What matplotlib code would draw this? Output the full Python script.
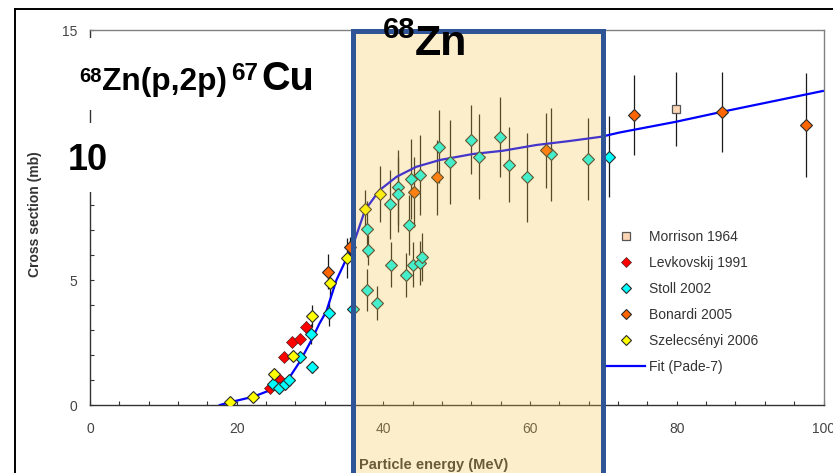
import matplotlib
matplotlib.use("Agg")
import matplotlib.pyplot as plt
from matplotlib.lines import Line2D
from matplotlib.patches import Rectangle
from matplotlib.ticker import MultipleLocator

plt.rcParams["font.family"] = ["Liberation Sans", "DejaVu Sans"]

# --- data (energy MeV, cross section mb, error mb) ---
morrison_x = [79.9]
morrison_y = [11.84]
morrison_err = [1.48]

levkovskij_x = [24.6, 25.8, 26.5, 27.6, 28.6, 29.5]
levkovskij_y = [0.69, 1.03, 1.91, 2.53, 2.63, 3.12]
levkovskij_err = [0.1, 0.1, 0.15, 0.2, 0.2, 0.25]

stoll_x = [24.9, 25.7, 26.6, 27.15, 28.6, 30.07, 30.25, 32.6, 35.8, 37.8,
           37.9, 37.8, 39.15, 40.9, 42.05, 42.05, 41.05, 43.1, 43.55, 43.8,
           44.95, 44.0, 44.96, 45.3, 47.6, 49.05, 51.9, 53.1, 55.95, 57.1,
           59.6, 62.9, 67.9, 70.75]
stoll_y = [0.83, 0.69, 0.83, 1.0, 1.93, 2.83, 1.52, 3.69, 3.85, 7.04,
           6.2, 4.6, 4.09, 8.03, 8.71, 8.43, 5.61, 5.2, 7.2, 9.03,
           9.21, 5.61, 5.69, 5.93, 10.33, 9.71, 10.61, 9.93, 10.71, 9.61,
           9.11, 10.03, 9.84, 9.93]
stoll_err = [0.1, 0.1, 0.1, 0.1, 0.15, 0.4, 0.25, 0.53, 0.2, 1.1,
             0.6, 0.85, 0.67, 1.38, 1.5, 1.5, 0.9, 0.88, 1.2, 1.6,
             1.6, 0.9, 0.88, 0.97, 1.47, 1.67, 1.38, 1.7, 1.6, 1.5,
             1.78, 1.87, 1.63, 1.63]

bonardi_x = [32.4, 35.4, 44.2, 47.3, 62.2, 74.2, 86.2, 97.6]
bonardi_y = [5.33, 6.33, 8.52, 9.11, 10.2, 11.61, 11.71, 11.2]
bonardi_err = [0.7, 0.4, 1.4, 1.5, 1.5, 1.6, 1.6, 2.08]

szelecsenyi_x = [19.07, 22.25, 25.07, 27.7, 30.3, 32.75, 35.05, 37.47, 39.6]
szelecsenyi_y = [0.11, 0.32, 1.24, 1.97, 3.56, 4.88, 5.88, 7.84, 8.43]
szelecsenyi_err = [0.0, 0.0, 0.15, 0.2, 0.45, 0.6, 0.8, 0.75, 1.13]

fit_x = [17.7, 19.07, 22.25, 24.9, 26.3, 27.25, 28.6, 30.2, 31.3, 32.2, 33.6,
         34.4, 35.2, 36.1, 37.5, 39.5, 41.8, 44.5, 47.7, 52.2, 56.3, 60.85,
         65.4, 69.7, 72.2, 79.9, 86.2, 99.9]
fit_y = [0.0, 0.11, 0.33, 0.63, 0.93, 1.13, 1.73, 2.6, 3.27, 3.73, 5.0,
         5.5, 6.0, 6.6, 7.8, 8.6, 9.13, 9.53, 9.8, 10.04, 10.17, 10.4,
         10.56, 10.73, 10.9, 11.33, 11.73, 12.56]

W, H = 833, 473


def fx(px):
    return px / W


def fy(py):
    return 1 - py / H


fig = plt.figure(figsize=(W / 100, H / 100), dpi=100)
ax = fig.add_axes([fx(90), fy(405), (823.5 - 90) / W, (405 - 30) / H])
ax.set_xlim(0, 100)
ax.set_ylim(0, 15)

# error bars, fit, markers
series = [
    (levkovskij_x, levkovskij_y, levkovskij_err),
    (stoll_x, stoll_y, stoll_err),
    (bonardi_x, bonardi_y, bonardi_err),
    (szelecsenyi_x, szelecsenyi_y, szelecsenyi_err),
    (morrison_x, morrison_y, morrison_err),
]
for xs, ys, es in series:
    ax.errorbar(xs, ys, yerr=es, fmt="none", ecolor="#1a1a1a",
                elinewidth=0.9, capsize=0, zorder=3)

ax.plot(fit_x, fit_y, color="#0000ff", lw=1.6, zorder=4)

ax.plot(levkovskij_x, levkovskij_y, ls="none", marker="D", ms=6.2,
        mfc="#ff0000", mec="#552222", mew=0.5, zorder=5)
ax.plot(stoll_x, stoll_y, ls="none", marker="D", ms=5.8,
        mfc="#00ffff", mec="#2a2a2a", mew=0.8, zorder=5)
ax.plot(bonardi_x, bonardi_y, ls="none", marker="D", ms=5.8,
        mfc="#ff6600", mec="#2a2a2a", mew=0.8, zorder=5)
ax.plot(szelecsenyi_x, szelecsenyi_y, ls="none", marker="D", ms=5.8,
        mfc="#ffff00", mec="#2a2a2a", mew=0.8, zorder=5)
ax.plot(morrison_x, morrison_y, ls="none", marker="s", ms=6,
        mfc="#fcd5b5", mec="#555555", mew=0.9, zorder=5)

# axes styling
for side in ["top", "right"]:
    ax.spines[side].set_color("#808080")
    ax.spines[side].set_linewidth(1.0)
for side in ["left", "bottom"]:
    ax.spines[side].set_color("#333333")
    ax.spines[side].set_linewidth(1.0)

ax.xaxis.set_major_locator(MultipleLocator(20))
ax.xaxis.set_minor_locator(MultipleLocator(4))
ax.yaxis.set_major_locator(MultipleLocator(5))
ax.yaxis.set_minor_locator(MultipleLocator(1))
ax.tick_params(axis="both", which="both", direction="in", length=3,
               width=0.8, color="#333333", labelcolor="#444444", labelsize=10)
ax.tick_params(axis="x", which="major", pad=12)
ax.tick_params(axis="y", which="major", pad=9)
ax.set_yticks([0, 5, 10, 15], ["0", "5", "", "15"])

fig.text(fx(35), fy(214), "Cross section (mb)", rotation=90, ha="center",
         va="center", fontsize=10, fontweight="bold", color="#333333")
ax.text(fx(434), fy(465), "Particle energy (MeV)", transform=fig.transFigure,
        ha="center", va="center", fontsize=10.5, fontweight="bold",
        color="#333333", zorder=6)

# highlighted 68Zn window: translucent overlay + blue border
ax.add_patch(Rectangle((35.9, -4), 70 - 35.9, 18.97, facecolor="#f5c542",
                       alpha=0.28, edgecolor="none", zorder=10, clip_on=False))
ax.add_patch(Rectangle((35.9, -4), 70 - 35.9, 18.97, fill=False,
                       edgecolor="#2f5597", lw=3.6, zorder=11, clip_on=False))

# legend
handles = [
    Line2D([], [], ls="none", marker="s", ms=6, mfc="#fcd5b5", mec="#555555", mew=0.9),
    Line2D([], [], ls="none", marker="D", ms=5.2, mfc="#ff0000", mec="#552222", mew=0.5),
    Line2D([], [], ls="none", marker="D", ms=4.8, mfc="#00ffff", mec="#2a2a2a", mew=0.8),
    Line2D([], [], ls="none", marker="D", ms=4.8, mfc="#ff6600", mec="#2a2a2a", mew=0.8),
    Line2D([], [], ls="none", marker="D", ms=4.8, mfc="#ffff00", mec="#2a2a2a", mew=0.8),
    Line2D([], [], color="#0000ff", lw=1.6),
]
labels = ["Morrison 1964", "Levkovskij 1991", "Stoll 2002", "Bonardi 2005",
          "Szelecsényi 2006", "Fit (Pade-7)"]
leg = ax.legend(handles, labels, loc="upper left",
                bbox_to_anchor=(fx(607), fy(230)), bbox_transform=fig.transFigure,
                frameon=False, fontsize=10, borderpad=0, borderaxespad=0,
                handlelength=2.75, handletextpad=0.25, labelspacing=0.86)
for t in leg.get_texts():
    t.set_color("#333333")
leg.set_zorder(12)

# white boxes that hide the left spine behind the big labels
fig.add_artist(Rectangle((fx(66), fy(110)), fx(260), 72 / H, transform=fig.transFigure,
                         facecolor="white", edgecolor="none", zorder=1))
fig.add_artist(Rectangle((fx(62), fy(192)), fx(50), 69 / H, transform=fig.transFigure,
                         facecolor="white", edgecolor="none", zorder=1))

# big annotations
fig.text(fx(79), fy(82), "68", fontsize=14.5, fontweight="bold", va="baseline", zorder=5)
fig.text(fx(102), fy(90), "Zn(p,2p)", fontsize=22.8, fontweight="bold", va="baseline", zorder=5)
fig.text(fx(231), fy(80), "67", fontsize=17.5, fontweight="bold", va="baseline", zorder=5)
fig.text(fx(261), fy(90), "Cu", fontsize=28.5, fontweight="bold", va="baseline", zorder=5)
fig.text(fx(68), fy(170), "10", fontsize=26, fontweight="bold", va="baseline", zorder=5)
fig.text(fx(383), fy(38), "68", fontsize=21, fontweight="bold", va="baseline", zorder=5)
fig.text(fx(415), fy(55), "Zn", fontsize=31, fontweight="bold", va="baseline", zorder=5)

# outer slide frame
fig.add_artist(Line2D([fx(15), fx(15)], [0, fy(9)], color="black", lw=1.4,
                      transform=fig.transFigure))
fig.add_artist(Line2D([fx(15), 1], [fy(9), fy(9)], color="black", lw=1.4,
                      transform=fig.transFigure))

fig.savefig("out.png", dpi=100)
